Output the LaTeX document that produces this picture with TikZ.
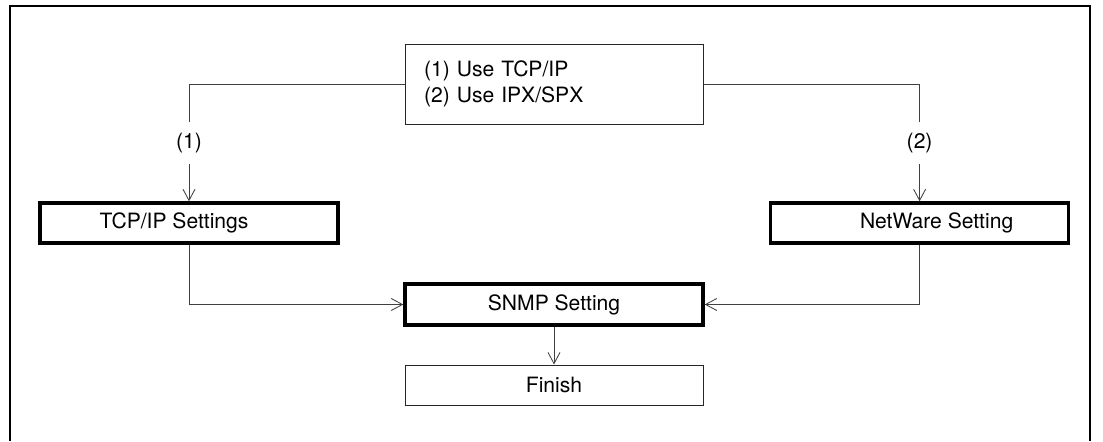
\documentclass[tikz,border=0pt]{standalone}
\usepackage{fontspec}
\setmainfont{TeX Gyre Heros}
\usetikzlibrary{positioning,arrows.meta}

\begin{document}
\begin{tikzpicture}[
  thinbox/.style={draw=black!85, line width=0.7pt, minimum width=7.45cm, minimum height=1cm, inner sep=0pt},
  thickbox/.style={thinbox, draw=black, line width=2.4pt},
  flow/.style={draw=black!75, line width=0.6pt},
  tag/.style={inner sep=0pt, minimum height=1.025cm},
  >={Straight Barb[length=2.8mm,width=3mm]},
  font=\fontsize{15}{18}\selectfont]
  \useasboundingbox (0,0) rectangle (27.575,11.025);

  % Frame (open at the bottom)
  \draw[line width=1.6pt] (0.25,0) -- (0.25,10.875) -- (27.25,10.875) -- (27.25,0);

  % Boxes
  \node[thinbox, minimum height=2cm, text width=6.5cm, align=left] (choice) at (13.85, 8.925) {(1) Use TCP/IP\\(2) Use IPX/SPX};
  \node[thickbox] (tcpip) at (4.725, 5.45) {\hspace*{-0.75cm}TCP/IP Settings};
  \node[thickbox] (netware) at (22.99, 5.45) {\hspace*{0.85cm}NetWare Setting};
  \node[thickbox, minimum height=1.025cm] (snmp) at (13.85, 3.4125) {SNMP Setting};
  \node[thinbox] (finish) at (13.85, 1.4) {Finish};

  % Branch labels
  \node[tag] (opt1) at (4.725, 7.45) {(1)};
  \node[tag] (opt2) at (22.99, 7.45) {(2)};

  % Connectors
  \draw[flow] (choice.west) -| (opt1);
  \draw[flow, ->] (opt1) -- (tcpip);
  \draw[flow] (choice.east) -| (opt2);
  \draw[flow, ->] (opt2) -- (netware);
  \draw[flow, ->] (tcpip) |- (snmp);
  \draw[flow, ->] (netware) |- (snmp);
  \draw[flow, ->] (snmp) -- (finish);
\end{tikzpicture}
\end{document}
